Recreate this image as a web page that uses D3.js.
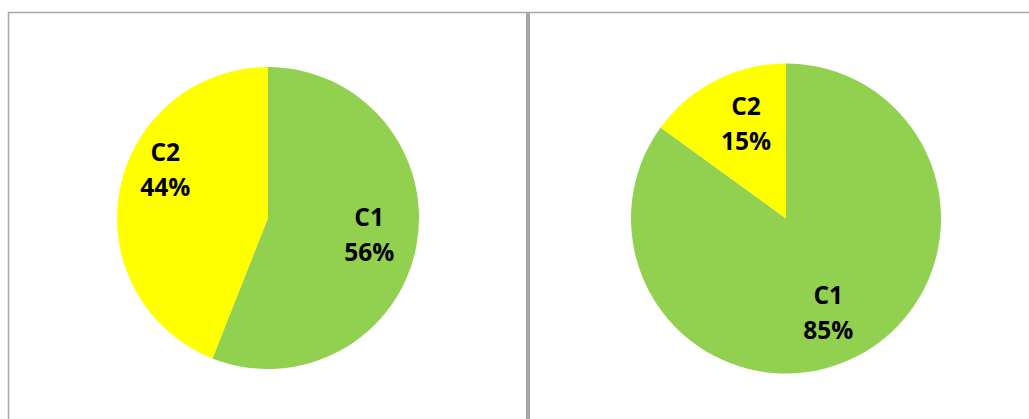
<!DOCTYPE html>
<html>
  <head>
    <meta charset="utf-8">
    <script src="https://d3js.org/d3.v7.min.js"></script>
    <title>C1 / C2 pies</title>
  </head>
  <body>
<style>
body {
  margin: 0;
  background-color: #fff;
}

svg {
  display: block;
}

.label {
  font-family: 'Open Sans', 'Noto Sans', sans-serif;
  font-weight: bold;
  font-size: 24.5px;
  fill: #000;
}
</style>

<svg></svg>

<script type="text/javascript">
  // values
  const categories = ["C1", "C2"];
  const leftValues = [56, 44];
  const rightValues = [85, 15];
  const sliceColors = ["#92d050", "#ffff00"];

  const width = 1029;
  const height = 419;
  const frameColor = "#a6a6a6";

  const svg = d3.select("svg")
      .attr("width", width)
      .attr("height", height);

  // frame: top rule, left rule and the thick divider between the panels
  svg.append("line")
    .attr("x1", 8).attr("x2", width)
    .attr("y1", 12.5).attr("y2", 12.5)
    .attr("stroke", frameColor)
    .attr("stroke-width", 1.5);

  svg.append("line")
    .attr("x1", 8.5).attr("x2", 8.5)
    .attr("y1", 12).attr("y2", height)
    .attr("stroke", frameColor)
    .attr("stroke-width", 1.5);

  svg.append("rect")
    .attr("x", 526).attr("y", 12)
    .attr("width", 4).attr("height", height - 12)
    .attr("fill", frameColor);

  const pie = d3.pie().sort(null);

  // nudge = degrees added to the mid angle (best-fit placement), rf = label radius factor
  const panels = [
    { values: leftValues, cx: 268, cy: 218, r: 151, nudge: [-1, 14], rf: [0.68, 0.75] },
    { values: rightValues, cx: 786, cy: 218.5, r: 155, nudge: [3, 4], rf: [0.67, 0.66] }
  ];

  panels.forEach(p => {
    const g = svg.append("g")
      .attr("transform", "translate(" + p.cx + "," + p.cy + ")");

    const arcs = pie(p.values);
    const arc = d3.arc().innerRadius(0).outerRadius(p.r);

    g.selectAll("path")
      .data(arcs)
      .enter()
      .append("path")
      .attr("d", arc)
      .attr("fill", (d, i) => sliceColors[i]);

    const total = d3.sum(p.values);

    const label = g.selectAll("text")
      .data(arcs)
      .enter()
      .append("text")
      .attr("class", "label")
      .attr("text-anchor", "middle")
      .attr("transform", (d, i) => {
        const mid = (d.startAngle + d.endAngle) / 2 + p.nudge[i] * Math.PI / 180;
        const rr = p.r * p.rf[i];
        return "translate(" + (rr * Math.sin(mid)) + "," + (-rr * Math.cos(mid)) + ")";
      });

    label.append("tspan")
      .attr("x", 0)
      .attr("dy", -9)
      .text((d, i) => categories[i]);

    label.append("tspan")
      .attr("x", 0)
      .attr("dy", 35)
      .text(d => Math.round(d.value / total * 100) + "%");
  });
</script>
  </body>
</html>
